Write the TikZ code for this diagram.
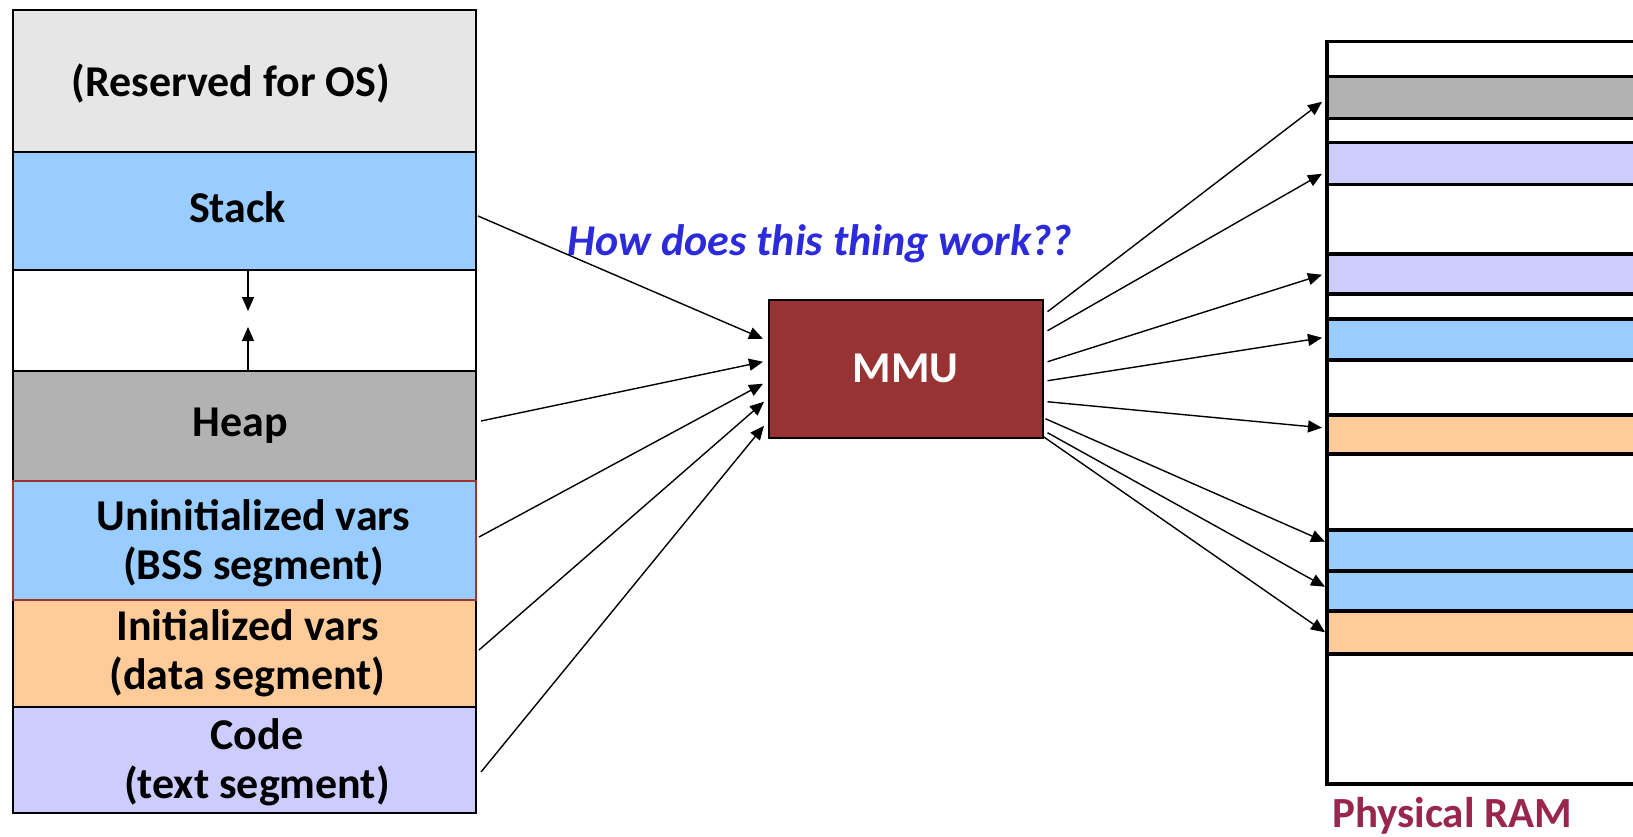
\documentclass[tikz,border=0pt]{standalone}
\usepackage{fontspec}
\setmainfont{Carlito}
\usetikzlibrary{arrows.meta,calc}
\definecolor{osgray}{HTML}{E6E6E6}
\definecolor{stackblue}{HTML}{99CCFF}
\definecolor{heapgray}{HTML}{B2B2B2}
\definecolor{dataorange}{HTML}{FFCC99}
\definecolor{codelav}{HTML}{CCCCFF}
\definecolor{mmured}{HTML}{993333}
\definecolor{askblue}{HTML}{2B2BDB}
\definecolor{ramred}{HTML}{99264D}
\definecolor{bssedge}{HTML}{A03333}
\begin{document}
\begin{tikzpicture}[x=1pt,y=-1pt,
  lbl/.style={font=\fontsize{44}{49}\selectfont\bfseries, align=center, inner sep=0pt},
  seg/.style={draw=black, line width=2pt, minimum width=463pt,
    inner sep=0pt, anchor=north west},
  band/.style={draw=black, line width=3.5pt, minimum width=400pt,
    inner sep=0pt, anchor=north west},
  conn/.style={-{Triangle[length=14pt,width=12pt]}, line width=1.4pt}]
\useasboundingbox (0,0) rectangle (1633,837);
\fill[white] (0,0) rectangle (1633,837);
\clip (0,0) rectangle (1633,837);

% virtual address space
\node[seg, fill=osgray, minimum height=142pt] (os) at (12,9) {};
\node[seg, fill=stackblue, minimum height=118pt] (stack) at (12,151) {};
\node[seg, fill=white, minimum height=101pt] (gap) at (12,269) {};
\node[seg, fill=heapgray, minimum height=110pt] (heap) at (12,370) {};
\node[seg, fill=dataorange, minimum height=107pt] (data) at (12,599) {};
\node[seg, fill=codelav, minimum height=106pt] (code) at (12,706) {};
\node[seg, fill=stackblue, draw=bssedge, minimum height=119pt] (bss) at (12,480) {};

% segment names
\node[lbl] (osT) at ($(os.center)+(-13.5,3)$) {(Reserved for OS)};
\node[lbl] (stackT) at ($(stack.center)+(-7,-4)$) {Stack};
\node[lbl] (heapT) at ($(heap.center)+(-4,0)$) {Heap};
\node[lbl] (bssT) at ($(bss.center)+(9,3)$) {Uninitialized vars\\(BSS segment)};
\node[lbl] (dataT) at ($(data.center)+(3,0)$) {Initialized vars\\(data segment)};
\node[lbl] (codeT) at ($(code.center)+(12.5,2)$) {Code\\(text segment)};

% stack and heap growth
\draw[conn] ([xshift=3.5pt]stack.south) -- ++(0,40);
\draw[conn] ([xshift=3.5pt]heap.north) -- ++(0,-43);

% MMU
\node[lbl, draw=black, line width=1.5pt, fill=mmured, text=white,
  minimum width=274pt, minimum height=138pt,
  anchor=north west] (mmu) at (768,299) {MMU};
\node[lbl, font=\fontsize{44}{49}\selectfont\bfseries\itshape, text=askblue,
  anchor=base] (ask) at (820,255) {How does this thing work??};

% physical memory
\node[draw=black, line width=3.5pt, fill=white, minimum width=400pt,
  minimum height=742pt, inner sep=0pt, anchor=north west] (ram) at (1325,40) {};
\node[band, fill=heapgray, minimum height=42pt] (r1) at (1325,75) {};
\node[band, fill=codelav, minimum height=42pt] (r2) at (1325,141) {};
\node[band, fill=codelav, minimum height=40pt] (r3) at (1325,252) {};
\node[band, fill=stackblue, minimum height=41pt] (r4) at (1325,317) {};
\node[band, fill=dataorange, minimum height=39pt] (r5) at (1325,413) {};
\node[band, fill=stackblue, minimum height=41pt] (r6) at (1325,528) {};
\node[band, fill=stackblue, minimum height=40pt] (r7) at (1325,569) {};
\node[band, fill=dataorange, minimum height=43pt] (r8) at (1325,609) {};
\node[lbl, font=\fontsize{43}{48}\selectfont\bfseries, text=ramred,
  anchor=base west] (ramlabel) at (1332,827) {Physical RAM};

% virtual segments into the MMU
\draw[conn] ($(stack.east)+(1,5)$) -- ($(mmu.west)+(-5,-30)$);
\draw[conn] ($(heap.east)+(4,-5)$) -- ($(mmu.west)+(-5,-7)$);
\draw[conn] ($(bss.east)+(2,-3.5)$) -- ($(mmu.west)+(-5,15)$);
\draw[conn] ($(data.east)+(2,-3.5)$) -- ($(mmu.west)+(-4,33)$);
\draw[conn] ($(code.east)+(4,12)$) -- ($(mmu.west)+(-4,57)$);

% MMU out to physical frames
\draw[conn] ($(mmu.east)+(4,-57)$) -- ($(r1.west)+(-3,4)$);
\draw[conn] ($(mmu.east)+(4,-38)$) -- ($(r2.west)+(-3,10)$);
\draw[conn] ($(mmu.east)+(4,-7)$) -- ($(r3.west)+(-3,1)$);
\draw[conn] ($(mmu.east)+(4,12)$) -- ($(r4.west)+(-3,-1.5)$);
\draw[conn] ($(mmu.east)+(4,33)$) -- ($(r5.west)+(-3,-6.5)$);
\draw[conn] ($(mmu.east)+(2,50)$) -- ($(r6.west)+(0,-8.5)$);
\draw[conn] ($(mmu.east)+(4,64)$) -- ($(r7.west)+(0,-4)$);
\draw[conn] ($(mmu.east)+(0,68)$) -- ($(r8.west)+(0,0)$);
\end{tikzpicture}
\end{document}
